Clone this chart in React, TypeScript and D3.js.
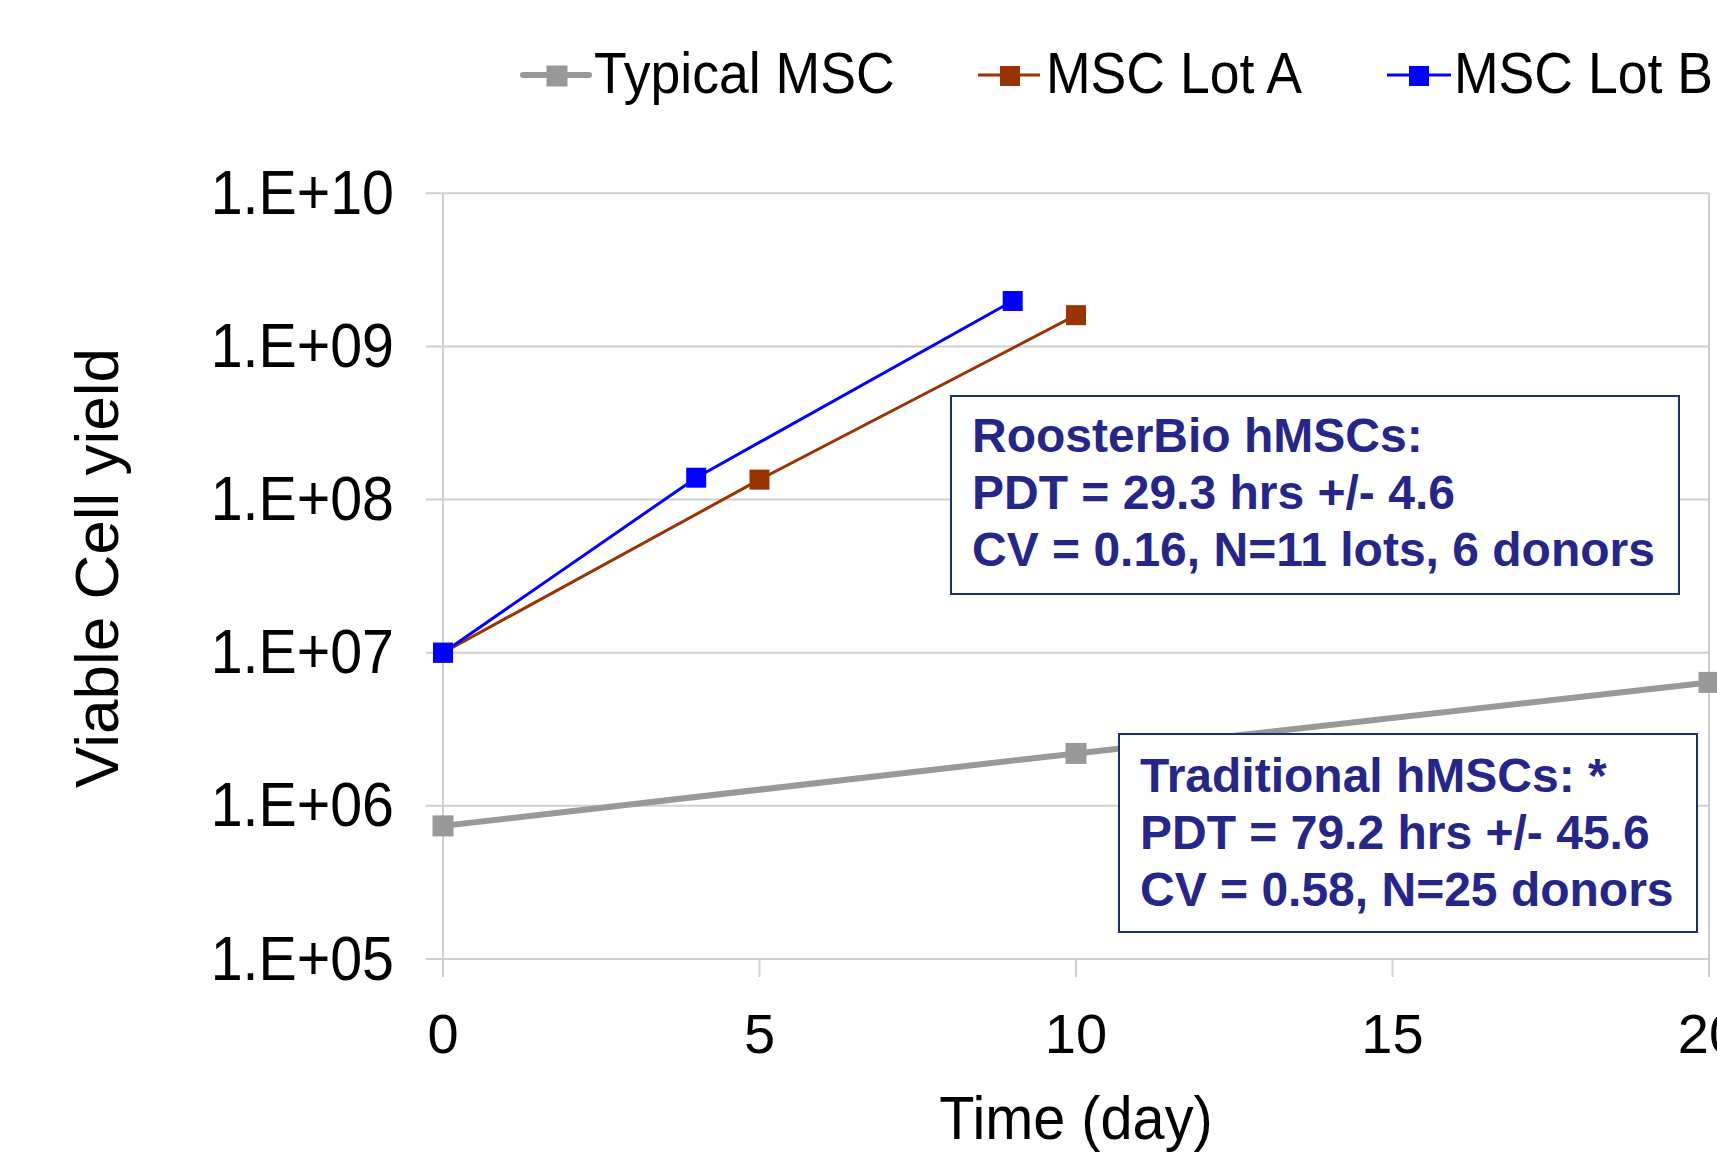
import React from "react";
import * as d3 from "d3";

const seriesNames = ["Typical MSC", "MSC Lot A", "MSC Lot B"];
const seriesColors = ["#999999", "#993300", "#0000ff"];
const typicalDays = [0, 10, 20];
const typicalValues = [7.4e5, 2.2e6, 6.4e6];
const lotADays = [0, 5, 10];
const lotAValues = [1e7, 1.35e8, 1.6e9];
const lotBDays = [0, 4, 9];
const lotBValues = [1e7, 1.39e8, 1.98e9];
const yTickValues = [1e5, 1e6, 1e7, 1e8, 1e9, 1e10];
const yTickLabels = ["1.E+05", "1.E+06", "1.E+07", "1.E+08", "1.E+09", "1.E+10"];
const xTickValues = [0, 5, 10, 15, 20];
const xTickLabels = ["0", "5", "10", "15", "20"];
const roosterLines = ["RoosterBio hMSCs:", "PDT = 29.3 hrs +/- 4.6", "CV = 0.16, N=11 lots, 6 donors"];
const traditionalLines = ["Traditional hMSCs: *", "PDT = 79.2 hrs +/- 45.6", "CV = 0.58, N=25 donors"];

const W = 1717;
const H = 1156;
const FONT = "'Liberation Sans', Arial, Helvetica, sans-serif";

export default function App() {
  const left = 443;
  const right = 1709;
  const top = 193.3;
  const bottom = 959;
  const x = d3.scaleLinear().domain([0, 20]).range([left, right]);
  const y = d3.scaleLog().domain([1e5, 1e10]).range([bottom, top]);
  const line = d3
    .line<[number, number]>()
    .x((d) => x(d[0]))
    .y((d) => y(d[1]));

  const series = [
    { days: typicalDays, values: typicalValues, color: seriesColors[0], width: 6, marker: 21 },
    { days: lotADays, values: lotAValues, color: seriesColors[1], width: 3, marker: 20 },
    { days: lotBDays, values: lotBValues, color: seriesColors[2], width: 3, marker: 20 },
  ];

  const legend = [
    { lx1: 523, lx2: 589, mx: 557, tx: 594 },
    { lx1: 978, lx2: 1040, mx: 1010, tx: 1046 },
    { lx1: 1387, lx2: 1451, mx: 1419, tx: 1454 },
  ];

  const grid = "#d0d0d0";
  const navy = "#262689";
  const boxStroke = "#1c2f73";

  const boxes = [
    { x0: 951, y0: 396, x1: 1679, y1: 594, tx: 972, by: 452, lines: roosterLines },
    { x0: 1119, y0: 734, x1: 1697, y1: 932, tx: 1140, by: 792, lines: traditionalLines },
  ];

  return (
    <svg
      width={W}
      height={H}
      viewBox={`0 0 ${W} ${H}`}
      style={{ position: "absolute", left: 0, top: 0, background: "#ffffff", overflow: "hidden" }}
      fontFamily={FONT}
    >
      <rect x={0} y={0} width={W} height={H} fill="#ffffff" />
      {yTickValues.map((v, i) => (
        <line key={"g" + i} x1={left - 17} x2={right} y1={y(v)} y2={y(v)} stroke={grid} strokeWidth={2} />
      ))}
      <line x1={left} x2={left} y1={top} y2={bottom + 18} stroke={grid} strokeWidth={2} />
      <line x1={right} x2={right} y1={top} y2={bottom + 18} stroke={grid} strokeWidth={2} />
      {xTickValues.map((v, i) => (
        <line key={"xt" + i} x1={x(v)} x2={x(v)} y1={bottom} y2={bottom + 18} stroke={grid} strokeWidth={2} />
      ))}
      {yTickValues.map((v, i) => (
        <text
          key={"yl" + i}
          transform={`translate(394,${y(v) + 20.5}) scale(0.91,1)`}
          textAnchor="end"
          fontSize={63}
          fill="#000"
        >
          {yTickLabels[i]}
        </text>
      ))}
      {xTickValues.map((v, i) => (
        <text key={"xl" + i} x={x(v)} y={1053} textAnchor="middle" fontSize={56} fill="#000">
          {xTickLabels[i]}
        </text>
      ))}
      <text transform={`translate(1076,1139) scale(0.93,1)`} textAnchor="middle" fontSize={62} fill="#000">
        Time (day)
      </text>
      <text transform={`translate(118,568) rotate(-90)`} textAnchor="middle" fontSize={62} fill="#000">
        Viable Cell yield
      </text>
      {series.map((s, si) => {
        const pts: [number, number][] = s.days.map((d, i) => [d, s.values[i]]);
        return (
          <g key={"s" + si}>
            <path d={line(pts) || ""} fill="none" stroke={s.color} strokeWidth={s.width} />
            {pts.map((p, pi) => (
              <rect
                key={pi}
                x={x(p[0]) - s.marker / 2}
                y={y(p[1]) - s.marker / 2}
                width={s.marker}
                height={s.marker}
                fill={s.color}
              />
            ))}
          </g>
        );
      })}
      {legend.map((l, i) => (
        <g key={"lg" + i}>
          <line
            x1={l.lx1}
            x2={l.lx2}
            y1={75}
            y2={75}
            stroke={series[i].color}
            strokeWidth={series[i].width}
            strokeLinecap={i === 0 ? "round" : "butt"}
          />
          <rect
            x={l.mx - series[i].marker / 2}
            y={76 - series[i].marker / 2}
            width={series[i].marker}
            height={series[i].marker}
            fill={series[i].color}
          />
          <text transform={`translate(${l.tx},93.3) scale(0.94,1)`} fontSize={57} fill="#000">
            {seriesNames[i]}
          </text>
        </g>
      ))}
      {boxes.map((b, bi) => (
        <g key={"b" + bi}>
          <rect
            x={b.x0}
            y={b.y0}
            width={b.x1 - b.x0}
            height={b.y1 - b.y0}
            fill="#ffffff"
            stroke={boxStroke}
            strokeWidth={2}
          />
          {b.lines.map((t, ti) => (
            <text key={ti} x={b.tx} y={b.by + ti * 57} fontSize={48} fontWeight="bold" fill={navy}>
              {t}
            </text>
          ))}
        </g>
      ))}
    </svg>
  );
}
